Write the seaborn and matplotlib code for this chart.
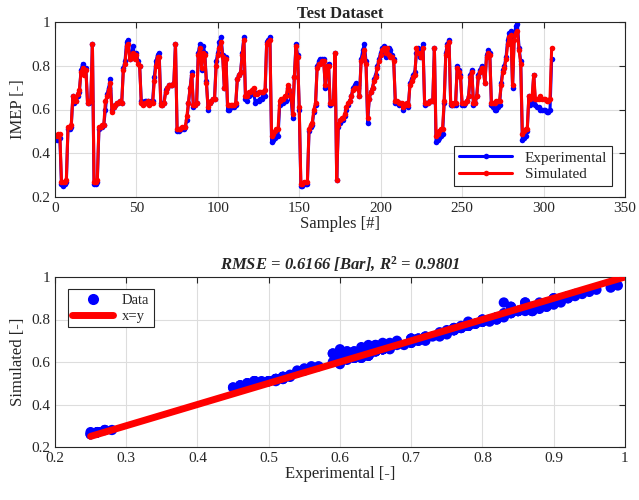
"""
Test dataset IMEP: experimental vs simulated (time trace + parity plot).
"""

import matplotlib
matplotlib.use("Agg")
import matplotlib.pyplot as plt
import pandas as pd
import seaborn as sns

# ---------------------------------------------------------------------------
# Data
# ---------------------------------------------------------------------------
EXPERIMENTAL = [
    0.46, 0.47, 0.47, 0.26, 0.25, 0.26, 0.27, 0.51, 0.51, 0.52,
    0.66, 0.63, 0.64, 0.66, 0.68, 0.78, 0.81, 0.77, 0.79, 0.63,
    0.63, 0.64, 0.90, 0.26, 0.26, 0.27, 0.51, 0.52, 0.52, 0.53,
    0.60, 0.67, 0.70, 0.74, 0.60, 0.61, 0.62, 0.63, 0.63, 0.64,
    0.63, 0.79, 0.82, 0.91, 0.92, 0.83, 0.85, 0.89, 0.84, 0.86,
    0.82, 0.80, 0.64, 0.63, 0.64, 0.64, 0.64, 0.63, 0.64, 0.64,
    0.75, 0.82, 0.85, 0.86, 0.63, 0.62, 0.63, 0.69, 0.70, 0.71,
    0.71, 0.71, 0.72, 0.90, 0.50, 0.50, 0.51, 0.51, 0.51, 0.52,
    0.55, 0.63, 0.70, 0.77, 0.61, 0.62, 0.63, 0.86, 0.90, 0.78,
    0.89, 0.86, 0.73, 0.60, 0.63, 0.64, 0.65, 0.65, 0.82, 0.86,
    0.91, 0.93, 0.85, 0.70, 0.84, 0.60, 0.60, 0.61, 0.61, 0.61,
    0.62, 0.74, 0.76, 0.77, 0.86, 0.93, 0.65, 0.64, 0.66, 0.67,
    0.67, 0.68, 0.63, 0.64, 0.64, 0.65, 0.65, 0.66, 0.66, 0.91,
    0.92, 0.93, 0.45, 0.46, 0.47, 0.48, 0.48, 0.62, 0.63, 0.63,
    0.64, 0.64, 0.70, 0.68, 0.65, 0.56, 0.75, 0.90, 0.85, 0.60,
    0.25, 0.25, 0.26, 0.26, 0.26, 0.50, 0.52, 0.53, 0.59, 0.62,
    0.80, 0.82, 0.83, 0.83, 0.83, 0.70, 0.80, 0.81, 0.62, 0.63,
    0.63, 0.86, 0.28, 0.52, 0.54, 0.55, 0.55, 0.57, 0.60, 0.62,
    0.64, 0.66, 0.70, 0.71, 0.72, 0.71, 0.66, 0.83, 0.87, 0.90,
    0.82, 0.54, 0.65, 0.68, 0.70, 0.74, 0.76, 0.80, 0.83, 0.86,
    0.88, 0.89, 0.84, 0.86, 0.88, 0.87, 0.85, 0.83, 0.63, 0.63,
    0.62, 0.63, 0.62, 0.60, 0.62, 0.63, 0.61, 0.72, 0.74, 0.76,
    0.77, 0.86, 0.88, 0.84, 0.87, 0.90, 0.62, 0.63, 0.63, 0.64,
    0.64, 0.64, 0.88, 0.45, 0.46, 0.47, 0.48, 0.49, 0.63, 0.86,
    0.90, 0.92, 0.62, 0.62, 0.62, 0.62, 0.80, 0.78, 0.76, 0.62,
    0.62, 0.63, 0.64, 0.66, 0.76, 0.78, 0.62, 0.63, 0.66, 0.76,
    0.78, 0.80, 0.79, 0.72, 0.85, 0.87, 0.86, 0.62, 0.61, 0.60,
    0.60, 0.61, 0.62, 0.72, 0.78, 0.80, 0.84, 0.92, 0.95, 0.96,
    0.70, 0.94, 0.98, 0.99, 0.88, 0.82, 0.46, 0.47, 0.48, 0.50,
    0.66, 0.62, 0.64, 0.76, 0.62, 0.61, 0.61, 0.60, 0.60, 0.60,
    0.60, 0.59, 0.59, 0.60, 0.83,
]

SIMULATED = [
    0.48, 0.49, 0.49, 0.27, 0.27, 0.27, 0.28, 0.52, 0.52, 0.53,
    0.66, 0.64, 0.64, 0.67, 0.69, 0.77, 0.79, 0.76, 0.78, 0.63,
    0.64, 0.64, 0.90, 0.27, 0.27, 0.28, 0.52, 0.52, 0.53, 0.53,
    0.64, 0.66, 0.69, 0.72, 0.59, 0.61, 0.62, 0.63, 0.63, 0.64,
    0.63, 0.78, 0.81, 0.89, 0.90, 0.83, 0.84, 0.86, 0.83, 0.85,
    0.81, 0.80, 0.63, 0.62, 0.63, 0.63, 0.64, 0.62, 0.63, 0.63,
    0.73, 0.80, 0.84, 0.84, 0.62, 0.62, 0.63, 0.68, 0.70, 0.71,
    0.71, 0.71, 0.72, 0.90, 0.51, 0.51, 0.51, 0.52, 0.52, 0.52,
    0.57, 0.63, 0.70, 0.76, 0.62, 0.62, 0.63, 0.85, 0.88, 0.79,
    0.86, 0.85, 0.72, 0.61, 0.63, 0.64, 0.65, 0.65, 0.80, 0.85,
    0.88, 0.91, 0.84, 0.70, 0.83, 0.62, 0.62, 0.62, 0.62, 0.62,
    0.63, 0.74, 0.76, 0.77, 0.85, 0.92, 0.66, 0.66, 0.68, 0.68,
    0.69, 0.70, 0.67, 0.67, 0.68, 0.68, 0.68, 0.68, 0.69, 0.90,
    0.91, 0.92, 0.48, 0.49, 0.50, 0.51, 0.51, 0.64, 0.65, 0.65,
    0.66, 0.66, 0.71, 0.69, 0.66, 0.58, 0.75, 0.89, 0.84, 0.61,
    0.26, 0.26, 0.27, 0.27, 0.27, 0.51, 0.53, 0.54, 0.60, 0.63,
    0.79, 0.81, 0.81, 0.82, 0.82, 0.71, 0.80, 0.80, 0.63, 0.63,
    0.64, 0.86, 0.28, 0.53, 0.55, 0.56, 0.56, 0.58, 0.61, 0.63,
    0.64, 0.66, 0.69, 0.70, 0.70, 0.70, 0.66, 0.82, 0.84, 0.87,
    0.81, 0.56, 0.65, 0.68, 0.70, 0.73, 0.75, 0.79, 0.82, 0.85,
    0.87, 0.88, 0.86, 0.88, 0.85, 0.84, 0.84, 0.82, 0.64, 0.64,
    0.63, 0.63, 0.63, 0.61, 0.62, 0.63, 0.62, 0.71, 0.73, 0.75,
    0.76, 0.88, 0.86, 0.86, 0.84, 0.88, 0.63, 0.63, 0.63, 0.64,
    0.64, 0.64, 0.88, 0.48, 0.49, 0.50, 0.51, 0.51, 0.64, 0.85,
    0.89, 0.91, 0.63, 0.62, 0.63, 0.63, 0.79, 0.77, 0.75, 0.63,
    0.63, 0.63, 0.64, 0.66, 0.75, 0.77, 0.63, 0.63, 0.66, 0.75,
    0.77, 0.79, 0.78, 0.72, 0.84, 0.86, 0.85, 0.63, 0.63, 0.63,
    0.64, 0.64, 0.64, 0.71, 0.77, 0.79, 0.83, 0.90, 0.93, 0.94,
    0.71, 0.92, 0.95, 0.96, 0.87, 0.81, 0.49, 0.50, 0.51, 0.51,
    0.66, 0.65, 0.66, 0.76, 0.65, 0.65, 0.65, 0.66, 0.65, 0.65,
    0.65, 0.64, 0.64, 0.65, 0.88,
]

SAMPLES = list(range(1, len(EXPERIMENTAL) + 1))
IDENTITY = [0.25, 1.0]

TOP_XTICKS = [0, 50, 100, 150, 200, 250, 300, 350]
BOT_XTICKS = [0.2, 0.3, 0.4, 0.5, 0.6, 0.7, 0.8, 0.9, 1.0]
YTICKS = [0.2, 0.4, 0.6, 0.8, 1.0]

BLUE = "#0000FF"
RED = "#FF0000"
FONT = ["Liberation Serif", "DejaVu Serif"]


def fmt(v, _=None):
    return f"{v:g}"


def matlab_axes(ax):
    ax.grid(True, color="#DDDDDD", linewidth=0.8)
    ax.set_axisbelow(True)
    for s in ax.spines.values():
        s.set_visible(True)
        s.set_color("#262626")
        s.set_linewidth(0.8)
    ax.tick_params(direction="in", top=True, right=True, length=4,
                   labelsize=11, colors="#262626", width=0.8)
    ax.xaxis.set_major_formatter(plt.FuncFormatter(fmt))
    ax.yaxis.set_major_formatter(plt.FuncFormatter(fmt))


def main():
    sns.set_theme(style="whitegrid")
    plt.rcParams["font.family"] = FONT
    plt.rcParams["mathtext.fontset"] = "custom"
    plt.rcParams["mathtext.it"] = "Liberation Serif:italic:bold"
    plt.rcParams["mathtext.rm"] = "Liberation Serif:bold"

    df = pd.DataFrame({
        "Samples": SAMPLES * 2,
        "IMEP": EXPERIMENTAL + SIMULATED,
        "Series": ["Experimental"] * len(SAMPLES) + ["Simulated"] * len(SAMPLES),
    })

    fig = plt.figure(figsize=(6.39, 5.0), dpi=100)
    fig.patch.set_facecolor("white")
    ax1 = fig.add_axes([0.086, 0.606, 0.892, 0.350])
    ax2 = fig.add_axes([0.086, 0.106, 0.892, 0.340])

    # --- Top: time trace -------------------------------------------------
    sns.lineplot(
        data=df, x="Samples", y="IMEP", hue="Series",
        hue_order=["Experimental", "Simulated"],
        palette={"Experimental": BLUE, "Simulated": RED},
        marker="o", markersize=4, markeredgewidth=0,
        linewidth=2.2, ax=ax1, legend=False,
    )
    ax1.set_xlim(0, 350)
    ax1.set_ylim(0.2, 1.0)
    ax1.set_xticks(TOP_XTICKS)
    ax1.set_yticks(YTICKS)
    matlab_axes(ax1)
    ax1.set_xlabel("Samples [#]", fontsize=12, labelpad=1)
    ax1.set_ylabel("IMEP [-]", fontsize=12, labelpad=4)
    ax1.set_title("Test Dataset", fontsize=12, fontweight="bold", pad=3)
    h1 = [
        plt.Line2D([], [], color=BLUE, lw=2.2, marker="o", ms=4, mew=0),
        plt.Line2D([], [], color=RED, lw=2.2, marker="o", ms=4, mew=0),
    ]
    leg1 = ax1.legend(h1, ["Experimental", "Simulated"], loc="lower right",
                      fontsize=11, frameon=True, fancybox=False,
                      edgecolor="#262626", framealpha=1, borderpad=0.3,
                      handlelength=3.5, labelspacing=0.2,
                      bbox_to_anchor=(0.99, 0.02))
    leg1.get_frame().set_linewidth(0.8)

    # --- Bottom: parity plot ---------------------------------------------
    sns.lineplot(x=IDENTITY, y=IDENTITY, color=RED, linewidth=5,
                 ax=ax2, zorder=3)
    sns.scatterplot(x=EXPERIMENTAL, y=SIMULATED, color=BLUE, s=55,
                    edgecolor="none", ax=ax2, zorder=2)
    ax2.set_xlim(0.2, 1.0)
    ax2.set_ylim(0.2, 1.0)
    ax2.set_xticks(BOT_XTICKS)
    ax2.set_yticks(YTICKS)
    matlab_axes(ax2)
    ax2.set_xlabel("Experimental [-]", fontsize=12, labelpad=1)
    ax2.set_ylabel("Simulated [-]", fontsize=12, labelpad=4)
    ax2.set_title(r"RMSE = 0.6166 [Bar], R$^2$ = 0.9801", fontsize=12,
                  fontweight="bold", fontstyle="italic", pad=5)
    h2 = [
        plt.Line2D([], [], color=BLUE, lw=0, marker="o", ms=8, mew=0),
        plt.Line2D([], [], color=RED, lw=5),
    ]
    leg2 = ax2.legend(h2, ["Data", "x=y"], loc="upper left", fontsize=10.5,
                      frameon=True, fancybox=False, edgecolor="#262626",
                      framealpha=1, borderpad=0.3, handlelength=2.8,
                      handletextpad=0.6, labelspacing=0.2,
                      bbox_to_anchor=(0.01, 0.97))
    leg2.get_frame().set_linewidth(0.8)

    fig.savefig("out.png", dpi=100, facecolor="white")
    plt.close(fig)


if __name__ == "__main__":
    main()
